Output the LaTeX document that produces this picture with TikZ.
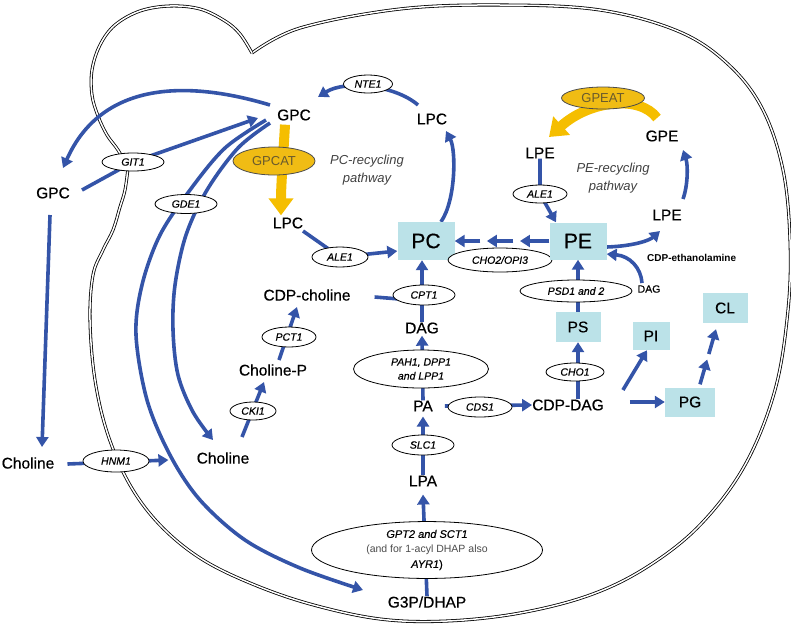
\documentclass[tikz,border=0pt]{standalone}
\usepackage{fontspec}
\setmainfont{Liberation Sans}
\newfontfamily\heavyf{Liberation Sans}[FakeBold=0.5]
\usetikzlibrary{shapes.geometric,arrows.meta,calc}
\definecolor{pblue}{RGB}{52,84,168}
\definecolor{pbox}{RGB}{187,226,232}
\definecolor{pgold}{RGB}{245,190,0}
\definecolor{gfill}{RGB}{240,188,20}
\definecolor{gtext}{RGB}{105,90,45}
\pgfdeclarelayer{bg}
\pgfsetlayers{bg,main}
\begin{document}
\begin{tikzpicture}[x=1pt,y=-1pt,
  lbl/.style={font=\heavyf\fontsize{15.5}{18}\selectfont, inner sep=0pt},
  enz/.style={ellipse, draw, fill=white, line width=0.8pt, inner sep=0pt, font=\heavyf\fontsize{10.5}{12}\selectfont\itshape},
  genz/.style={ellipse, draw=black!70, fill=gfill, line width=0.8pt, inner sep=0pt, font=\fontsize{13}{15}\selectfont, text=gtext},
  pbx/.style={fill=pbox, inner sep=0pt, font=\heavyf\fontsize{15.5}{18}\selectfont},
  big/.style={font=\heavyf\fontsize{21}{24}\selectfont},
  arr/.style={draw=pblue, line width=3.6pt, -{Triangle[width=12pt,length=10pt]}},
  lin/.style={draw=pblue, line width=3.6pt},
  garr/.style={draw=pgold, line width=10pt, -{Triangle[width=24pt,length=17pt]}},
  memb/.style={draw=black, double=white, double distance=1.5pt, line width=0.8pt, line join=round},
  note/.style={font=\fontsize{13}{18}\selectfont\itshape, text=black!75, align=center, inner sep=0pt}
]
\useasboundingbox (0,0) rectangle (791,624);

% ---------- nodes ----------
\node[lbl] (GPCin) at (294,115) {GPC};
\node[lbl] (GPCout) at (53,193) {GPC};
\node[enz, minimum width=49pt, minimum height=18pt] (NTE1) at (368,84) {NTE1};
\node[lbl] (LPCtop) at (432,119) {LPC};
\node[genz, minimum width=82pt, minimum height=28pt] (GPCAT) at (274,161) {GPCAT};
\node[note] (PCrec) at (367,170) {PC-recycling\\pathway};
\node[lbl] (LPClow) at (288,223) {LPC};
\node[enz, minimum width=56pt, minimum height=20pt] (ALEa) at (340,257) {ALE1};
\node[pbx, big, minimum width=57pt, minimum height=38pt] (PC) at (426,241) {PC};
\node[enz, minimum width=104pt, minimum height=24pt] (CHO2) at (500,260) {CHO2/OPI3};
\node[pbx, big, minimum width=57pt, minimum height=37pt] (PE) at (578,241) {PE};
\node[lbl] (LPEtop) at (540,153) {LPE};
\node[genz, minimum width=83pt, minimum height=22pt] (GPEAT) at (603,98) {GPEAT};
\node[lbl] (GPE) at (662,136) {GPE};
\node[note] (PErec) at (613,178) {PE-recycling\\pathway};
\node[enz, minimum width=54pt, minimum height=18pt] (ALEb) at (540,194) {ALE1};
\node[lbl] (LPElow) at (667,215) {LPE};
\node[font=\fontsize{10}{12}\selectfont\bfseries, anchor=west, inner sep=0pt] (CDPeth) at (647,258) {CDP-ethanolamine};
\node[font=\heavyf\fontsize{10.5}{12}\selectfont, inner sep=0pt] (DAGs) at (649,289) {DAG};
\node[enz, minimum width=112pt, minimum height=22pt] (PSD) at (576,291) {PSD1 and 2};
\node[pbx, minimum width=45pt, minimum height=30pt] (CL) at (725,308) {CL};
\node[pbx, minimum width=45pt, minimum height=30pt] (PS) at (578,327) {PS};
\node[pbx, minimum width=37pt, minimum height=28pt] (PI) at (651,336) {PI};
\node[pbx, minimum width=50pt, minimum height=29pt] (PG) at (690,402) {PG};
\node[enz, minimum width=58pt, minimum height=18pt] (CHO1) at (575,372) {CHO1};
\node[lbl] (CDPDAG) at (568,405) {CDP-DAG};
\node[lbl] (PA) at (423,406) {PA};
\node[enz, minimum width=64pt, minimum height=20pt] (CDS1) at (480,407) {CDS1};
\node[enz, minimum width=135pt, minimum height=38pt, align=center, font=\heavyf\fontsize{10.5}{14}\selectfont\itshape] (PAH) at (421,369) {PAH1, DPP1\\and LPP1};
\node[lbl] (DAGm) at (422,328) {DAG};
\node[enz, minimum width=62pt, minimum height=20pt] (CPT1) at (424,295) {CPT1};
\node[lbl] (CDPcho) at (307,295) {CDP-choline};
\node[enz, minimum width=54pt, minimum height=20pt] (PCT1) at (289,337) {PCT1};
\node[lbl] (CholP) at (273,370) {Choline-P};
\node[enz, minimum width=46pt, minimum height=18pt] (CKI1) at (253,411) {CKI1};
\node[lbl] (CholIn) at (223,458) {Choline};
\node[lbl] (CholOut) at (28,463) {Choline};
\node[enz, minimum width=66pt, minimum height=22pt] (HNM1) at (116,461) {HNM1};
\node[enz, minimum width=62pt, minimum height=20pt] (SLC1) at (423,445) {SLC1};
\node[lbl] (LPA) at (423,481) {LPA};
\node[ellipse, draw, fill=white, line width=0.8pt, inner sep=0pt, minimum width=231pt, minimum height=56pt, align=center, font=\heavyf\fontsize{11}{15}\selectfont] (GPT2) at (427,550)
  {{\itshape GPT2 and SCT1}\\{\normalfont\fontsize{10.5}{15}\selectfont\color{black!70}(and for 1-acyl DHAP also}\\{\itshape AYR1})};
\node[lbl] (G3P) at (427,602) {G3P/DHAP};
\node[enz, minimum width=62pt, minimum height=18pt] (GIT1) at (133,162) {GIT1};
\node[enz, minimum width=62pt, minimum height=19pt] (GDE1) at (186,204) {GDE1};

% ---------- background: membrane and connectors ----------
\begin{pgfonlayer}{bg}
\draw[memb] plot[smooth, tension=0.6] coordinates {(252,53) (300,28) (400,9) (500,5) (600,10) (680,32) (730,66) (763,110) (783,170) (790,240) (788,310) (775,390) (745,465) (700,525) (647,567) (590,595) (520,613) (447,621) (380,619) (310,604) (250,583) (200,558) (160,525) (130,485) (108,435) (95,380) (90,320) (93,275) (103,250) (113,230) (120,207) (125,190) (128,168)};
\draw[memb] plot[smooth, tension=0.6] coordinates {(128,168) (118,150) (107,135) (98,116) (92,95) (92,70) (100,45) (115,25) (140,11) (170,6) (200,9) (225,21) (240,34) (252,53)};

% GPC <-> GPC
\draw[arr] ([shift={(-24,-10)}]GPCin.center) .. controls (180,78) and (100,85) .. ([shift={(10,-25)}]GPCout.center);
\draw[arr] ([shift={(29,-3)}]GPCout.center) -- (GIT1.center) -- ([shift={(-36,3)}]GPCin.center);
% GDE1 curves
\draw[arr] plot[smooth, tension=0.55] coordinates {([shift={(-28,5)}]GPCin.center) (225,148) (190,190) (160,235) (142,285) (136,335) (147,400) (170,455) (200,500) (245,540) (300,568) ([shift={(-64,-12)}]G3P.center)};
\draw[arr] plot[smooth, tension=0.55] coordinates {([shift={(-24,8)}]GPCin.center) (238,148) (207,190) (186,235) (175,285) (173,330) (178,375) (193,412) ([shift={(-10,-18)}]CholIn.center)};
% GPCAT
\draw[garr] ([shift={(-9,4)}]GPCin.south) .. controls (283,160) and (281,185) .. ([shift={(-7,-2)}]LPClow.north);
% NTE1
\draw[arr] ([shift={(-14,-14)}]LPCtop.center) .. controls (395,85) and (345,80) .. ([shift={(24,-18)}]GPCin.center);
% PC -> LPC
\draw[arr] ([xshift=15pt]PC.north) .. controls (456,200) and (456,150) .. ([shift={(14,12)}]LPCtop.center);
% LPC -> ALE1 -> PC
\draw[arr] ([shift={(15,8)}]LPClow.center) -- (ALEa.center) -- ([shift={(0,10)}]PC.west);
% CDP-choline -> CPT1
\draw[lin] ([shift={(-18,2)}]CPT1.west) -- ([shift={(0,6)}]CPT1.center);
% DAG -> PC
\draw[arr] (DAGm.north) -- (DAGm.north |- PC.south);
% PE -> PC chain
\draw[arr] (PE.west) -- ($(PE.west)!0.31!(PC.east)$);
\draw[arr] ($(PE.west)!0.38!(PC.east)$) -- ($(PE.west)!0.66!(PC.east)$);
\draw[arr] ($(PE.west)!0.73!(PC.east)$) -- (PC.east);
% LPE -> ALE1 -> PE
\draw[arr] (LPEtop.south) -- (ALEb.center) -- ([xshift=-22pt]PE.north);
% GPEAT
\draw[garr] ([shift={(-5,-18)}]GPE.center) .. controls (640,95) and (590,100) .. ([shift={(9,-16)}]LPEtop.center);
% LPE -> GPE
\draw[arr] ([shift={(16,-16)}]LPElow.center) .. controls (688,185) and (688,165) .. ([shift={(21,14)}]GPE.center);
% PE -> LPE
\draw[arr] ([shift={(0,6)}]PE.east) .. controls (635,246) and (650,240) .. ([shift={(-7,16)}]LPElow.center);
% DAG / CDP-ethanolamine -> PE
\draw[arr] ([shift={(-7,-6)}]DAGs.center) .. controls (641,268) and (630,256) .. ([shift={(0,13)}]PE.east);
% PS -> PE
\draw[arr] (PS.north) -- (PE.south);
% CDP-DAG -> PS
\draw[arr] (PS.south |- CDPDAG.north) -- (PS.south);
% CDP-DAG -> PI
\draw[arr] ([shift={(19,-15)}]CDPDAG.east) -- ([xshift=-4pt]PI.south);
% CDP-DAG -> PG
\draw[arr] ([xshift=-35pt]PG.west) -- (PG.west);
% PG -> CL
\coordinate (pg0) at ([shift={(10,-3)}]PG.north);
\coordinate (cl0) at ([shift={(-9,6)}]CL.south);
\draw[arr] (pg0) -- ($(pg0)!0.45!(cl0)$);
\draw[arr] ($(pg0)!0.55!(cl0)$) -- (cl0);
% PA -> CDS1 -> CDP-DAG
\draw[arr] ([xshift=12pt]PA.east) -- (CDPDAG.west);
% PA -> DAG
\draw[arr] (PA.north) -- ([shift={(0,2)}]DAGm.south);
% LPA -> PA
\draw[arr] (LPA.north) -- ([shift={(0,5)}]PA.south);
% G3P -> LPA
\draw[arr] (G3P.north) -- ([shift={(0,8)}]LPA.south);
% choline branch
\draw[arr] ([shift={(19,-21)}]CholIn.center) -- ([shift={(-9,12)}]CholP.center);
\draw[arr] ([shift={(6,-10)}]CholP.center) -- ([shift={(-10,12)}]CDPcho.center);
\draw[arr] ([shift={(-3,22)}]GPCout.center) -- ([shift={(14,-16)}]CholOut.center);
\draw[arr] ([shift={(13,1)}]CholOut.east) -- ([shift={(19,-1)}]HNM1.east);
\end{pgfonlayer}
\end{tikzpicture}
\end{document}
